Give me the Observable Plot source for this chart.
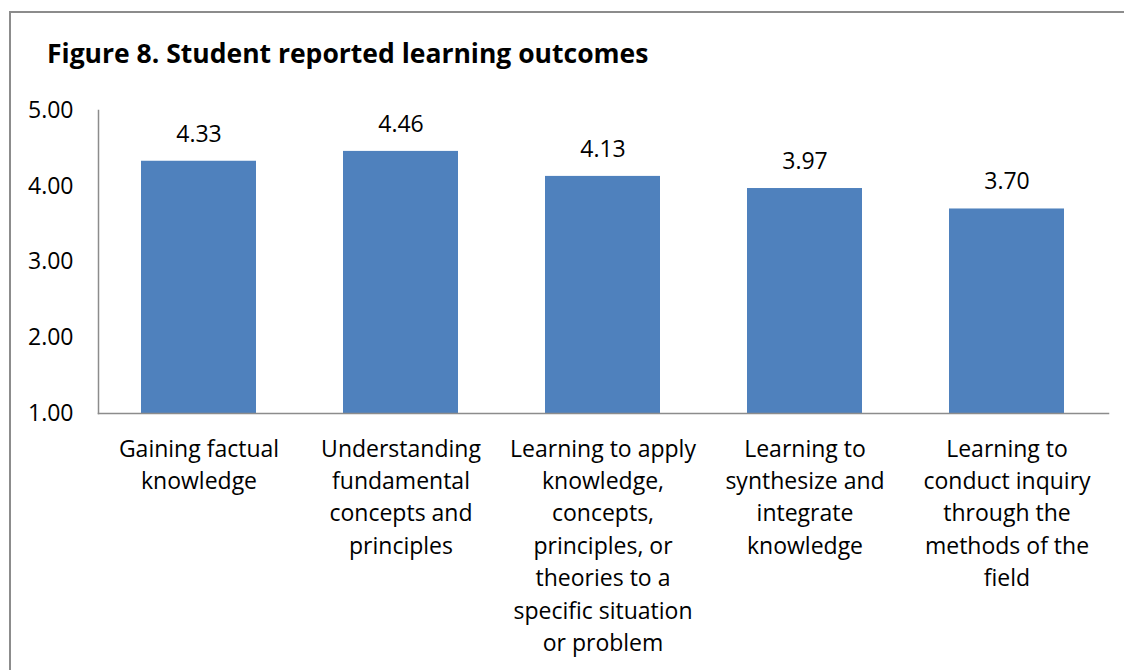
<!DOCTYPE html>
<html>
<head>
<meta charset="utf-8">
<script src="https://cdn.jsdelivr.net/npm/d3@7"></script>
<script src="https://cdn.jsdelivr.net/npm/@observablehq/plot@0.6"></script>
<style>
  html, body { margin: 0; padding: 0; background: #fff; width: 1124px; height: 670px; overflow: hidden; }
  #frame { position: absolute; left: 9px; top: 11px; width: 1130px; height: 680px; border: 2px solid #8c8c8c; box-sizing: border-box; }
  #title { position: absolute; left: 47px; top: 36px; font-family: "Open Sans", Lato, sans-serif; font-weight: bold; font-size: 26.5px; color: #000; line-height: 34px; }
  #chart { position: absolute; left: 0; top: 80px; }
</style>
</head>
<body>
<div id="frame"></div>
<div id="title">Figure 8. Student reported learning outcomes</div>
<div id="chart"></div>
<script>
const categories = [
  "Gaining factual knowledge",
  "Understanding fundamental concepts and principles",
  "Learning to apply knowledge, concepts, principles, or theories to a specific situation or problem",
  "Learning to synthesize and integrate knowledge",
  "Learning to conduct inquiry through the methods of the field"
];
const values = [4.33, 4.46, 4.13, 3.97, 3.70];
const tickLabels = [
  "Gaining factual\nknowledge",
  "Understanding\nfundamental\nconcepts and\nprinciples",
  "Learning to apply\nknowledge,\nconcepts,\nprinciples, or\ntheories to a\nspecific situation\nor problem",
  "Learning to\nsynthesize and\nintegrate\nknowledge",
  "Learning to\nconduct inquiry\nthrough the\nmethods of the\nfield"
];
const yTicks = [1, 2, 3, 4, 5];

const data = categories.map((c, i) => ({category: c, value: values[i]}));
const labelOf = new Map(categories.map((c, i) => [c, tickLabels[i]]));

const FS = 23;
const chart = Plot.plot({
  width: 1124,
  height: 590,
  marginLeft: 98,
  marginRight: 16,
  marginTop: 30,
  marginBottom: 257,
  style: { fontFamily: "'Open Sans', Lato, sans-serif", fontSize: FS + "px", color: "#000", background: "transparent" },
  x: { domain: categories, paddingInner: 0.43, paddingOuter: 0.215, label: null },
  y: { domain: [1, 5], label: null },
  marks: [
    Plot.barY(data, { x: "category", y1: 1, y2: "value", fill: "#4F81BD" }),
    Plot.text(data, { x: "category", y: "value", text: d => d3.format(".2f")(d.value), dy: -27, fontSize: FS, fill: "#000" }),
    Plot.axisY({ ticks: yTicks, tickFormat: d3.format(".2f"), tickSize: 0, tickPadding: 25, fontSize: FS, label: null }),
    Plot.axisX({ tickFormat: d => labelOf.get(d), tickSize: 0, tickPadding: 20, fontSize: FS, lineHeight: 32.4 / FS, lineAnchor: "top", label: null }),
    Plot.frame({ anchor: "left", stroke: "#8c8c8c", strokeWidth: 1.5 }),
    Plot.frame({ anchor: "bottom", stroke: "#8c8c8c", strokeWidth: 1.5 })
  ]
});
document.getElementById("chart").appendChild(chart);
</script>
</body>
</html>
